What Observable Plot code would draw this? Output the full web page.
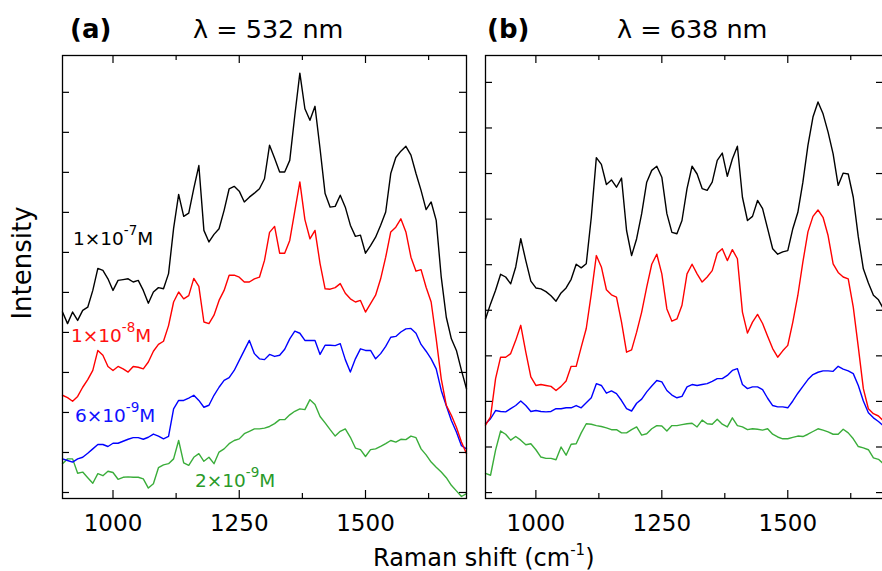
<!DOCTYPE html>
<html>
<head>
<meta charset="utf-8">
<script src="https://cdn.jsdelivr.net/npm/d3@7"></script>
<script src="https://cdn.jsdelivr.net/npm/@observablehq/plot@0.6"></script>
<style>
html, body { margin: 0; padding: 0; background: #fff; overflow: hidden; }
#wrap { position: relative; width: 882px; height: 571px; overflow: hidden; background: #fff; font-family: "DejaVu Sans", sans-serif; }
#wrap > svg { position: absolute; top: 0; }
</style>
</head>
<body>
<div id="wrap"></div>
<script>
// Raman shift sampling (cm^-1)
const xs = [900,910,920,930,940,950,960,970,980,990,
  1000,1010,1020,1030,1040,1050,1060,1070,1080,1090,
  1100,1110,1120,1130,1140,1150,1160,1170,1180,1190,
  1200,1210,1220,1230,1240,1250,1260,1270,1280,1290,
  1300,1310,1320,1330,1340,1350,1360,1370,1380,1390,
  1400,1410,1420,1430,1440,1450,1460,1470,1480,1490,
  1500,1510,1520,1530,1540,1550,1560,1570,1580,1590,
  1600,1610,1620,1630,1640,1650,1660,1670,1680,1690,1700];

// Panel (a) λ = 532 nm, intensities (a.u.)
const aBlack = [451,422,451,430,455,463,505,560,555,534,
  505,530,532,534,526,530,505,473,501,512,
  509,547,660,745,690,698,760,817,655,626,
  645,659,705,759,765,753,726,738,748,759,
  784,868,835,801,801,830,942,1048,959,930,
  965,859,747,713,715,743,713,668,640,643,
  598,617,638,668,701,797,837,853,865,843,
  797,755,707,726,680,538,438,384,355,305,259];
const aRed = [243,237,228,240,263,282,305,355,343,315,
  305,315,309,301,315,313,309,326,353,370,
  378,417,476,501,484,492,535,515,426,422,
  443,480,505,543,543,538,526,526,534,538,
  580,650,665,598,598,630,703,776,682,634,
  655,572,509,508,512,522,498,484,476,480,
  451,472,493,534,588,651,663,684,651,588,
  553,557,513,476,384,284,218,193,163,126,97];
const aBlue = [84,80,76,84,88,98,109,120,120,115,
  123,123,128,133,137,137,133,138,146,141,
  134,140,209,230,230,236,243,230,213,218,
  243,263,280,287,305,330,355,380,347,334,
  332,345,340,343,358,384,403,398,380,380,
  380,345,368,368,367,372,332,301,334,359,
  355,355,334,347,365,388,390,401,409,410,
  398,370,353,334,309,255,217,180,151,117,109];
const aGreen = [72,84,84,48,51,37,23,47,42,53,
  50,33,38,39,38,38,34,11,22,62,
  69,72,84,130,74,68,88,97,78,88,
  72,101,109,122,130,134,147,153,159,159,
  161,165,172,182,182,194,203,209,207,232,
  220,190,174,157,141,153,159,138,111,107,
  90,107,109,115,122,130,126,133,132,141,
  137,109,94,76,63,51,37,18,4,-10,-3];

// Panel (b) λ = 638 nm, intensities (a.u.), 900–1690 cm^-1
const bBlack = [381,414,444,479,473,458,495,557,509,464,
  449,447,441,432,420,438,449,468,501,493,
  502,604,735,720,676,686,670,690,575,520,
  557,612,681,707,716,692,612,571,568,597,
  667,716,699,667,663,681,729,745,694,732,
  760,648,597,606,641,623,579,535,523,528,
  531,579,615,681,762,824,857,831,791,743,
  674,701,699,648,561,491,460,433,423,403];
const bRed = [148,166,250,297,297,305,334,367,308,254,
  235,237,235,233,224,233,245,277,277,319,
  360,436,520,495,445,434,429,374,308,313,
  352,396,451,501,523,480,403,376,381,411,
  480,501,480,462,473,487,525,535,509,533,
  513,396,350,374,391,371,343,316,297,311,
  323,374,433,506,572,606,620,604,564,502,
  483,473,469,407,319,228,184,173,168,157];
const bBlue = [151,162,180,178,177,184,191,201,191,178,
  180,178,177,178,184,184,186,186,191,186,
  197,208,239,235,218,223,217,202,184,179,
  196,205,221,234,246,243,224,214,208,211,
  232,237,235,237,239,244,250,250,257,268,
  272,237,228,232,232,226,207,191,188,188,
  186,201,218,233,248,259,264,267,267,266,
  277,271,267,261,235,201,175,164,156,146];
const bGreen = [42,38,93,135,128,115,123,115,105,107,
  94,78,75,75,72,100,82,106,107,131,
  151,150,147,145,142,138,138,131,131,138,
  144,126,129,140,147,146,135,147,147,149,
  151,152,144,159,151,150,161,150,144,164,
  147,144,138,140,139,137,140,128,122,118,
  118,121,124,123,128,134,140,137,133,128,
  128,139,131,118,101,98,94,76,73,63];

const concentrations = ["1×10^-7 M", "1×10^-8 M", "6×10^-9 M", "2×10^-9 M"];
const lineColors = ["#000000", "#ff0000", "#0000ff", "#3aad3a"];
const labelColors = ["#000000", "#ff1010", "#1010ff", "#2a9a2a"];
const majorX = [1000, 1250, 1500];
const minorX = [1125, 1375, 1625];
const yTicksA = [0,100,200,300,400,500,600,700,800,900,1000];
const yTicksB = [0,100,200,300,400,500,600,700,800,900];

function makePanel({series, xDomain, yDomain, yTicks, width, mL, mR}) {
  const H = 545, mT = 55, mB = 47;
  const innerH = H - mT - mB, innerW = width - mL - mR;
  const marks = [];
  [3, 2, 1, 0].forEach(k => {
    const data = series[k].map((v, i) => ({x: xs[i], y: v, c: concentrations[k]}));
    marks.push(Plot.line(data, {x: "x", y: "y", stroke: lineColors[k], strokeWidth: 1.4, strokeLinejoin: "round"}));
  });
  const tk = {stroke: "#000", strokeWidth: 1.2};
  marks.push(Plot.tickX(majorX, {x: d => d, insetTop: innerH - 8, ...tk}));
  marks.push(Plot.tickX(majorX, {x: d => d, insetBottom: innerH - 8, ...tk}));
  marks.push(Plot.tickX(minorX, {x: d => d, insetTop: innerH - 5, ...tk}));
  marks.push(Plot.tickX(minorX, {x: d => d, insetBottom: innerH - 5, ...tk}));
  marks.push(Plot.tickY(yTicks, {y: d => d, insetRight: innerW - 7, ...tk}));
  marks.push(Plot.tickY(yTicks, {y: d => d, insetLeft: innerW - 7, ...tk}));
  marks.push(Plot.axisX(majorX, {anchor: "bottom", tickSize: 0, tickPadding: 16, fontSize: 23, tickFormat: d3.format("d"), fill: "#000", label: null}));
  marks.push(Plot.frame({stroke: "#000", strokeWidth: 1.3}));
  return Plot.plot({
    width, height: H, marginTop: mT, marginBottom: mB, marginLeft: mL, marginRight: mR,
    x: {domain: xDomain, label: null},
    y: {domain: yDomain, axis: null},
    style: {fontFamily: "DejaVu Sans, sans-serif", fontSize: "23px", color: "#000", background: "transparent", overflow: "visible"},
    marks
  });
}

const wrap = document.getElementById("wrap");
const pa = makePanel({series: [aBlack, aRed, aBlue, aGreen], xDomain: [900, 1700], yDomain: [-15, 1092], yTicks: yTicksA, width: 470, mL: 62, mR: 4});
pa.style.left = "0px";
wrap.appendChild(pa);
const pb = makePanel({series: [bBlack, bRed, bBlue, bGreen], xDomain: [900, 1690], yDomain: [-13, 959], yTicks: yTicksB, width: 414, mL: 15, mR: 1});
pb.style.left = "470px";
wrap.appendChild(pb);

// Text overlay
const ov = d3.select(wrap).append("svg")
  .attr("width", 882).attr("height", 571)
  .style("left", "0px").style("pointer-events", "none")
  .attr("font-family", "DejaVu Sans, sans-serif");

const titles = [
  {text: "(a)", x: 70, y: 38, size: 26, weight: "bold"},
  {text: "λ = 532 nm", x: 193, y: 38, size: 25.5, weight: "normal"},
  {text: "(b)", x: 487, y: 38, size: 26, weight: "bold"},
  {text: "λ = 638 nm", x: 617, y: 38, size: 25.5, weight: "normal"}
];
titles.forEach(t => ov.append("text").attr("x", t.x).attr("y", t.y)
  .attr("font-size", t.size).attr("font-weight", t.weight).attr("fill", "#000").text(t.text));

// x-axis title with superscript
const xt = ov.append("text").attr("x", 373).attr("y", 566).attr("font-size", 24).attr("fill", "#000");
xt.append("tspan").text("Raman shift (cm");
xt.append("tspan").attr("dy", -11).attr("font-size", 15).text("-1");
xt.append("tspan").attr("dy", 11).text(")");

// y-axis title
ov.append("text").attr("transform", "translate(31,263) rotate(-90)")
  .attr("text-anchor", "middle").attr("font-size", 26).attr("fill", "#000").text("Intensity");

// concentration labels
const labelPos = [
  {x: 73, y: 245}, {x: 71, y: 342}, {x: 75, y: 422}, {x: 195, y: 487}
];
concentrations.forEach((c, k) => {
  const [base, rest] = c.split("^");
  const [sup, unit] = rest.split(" ");
  const t = ov.append("text").attr("x", labelPos[k].x).attr("y", labelPos[k].y)
    .attr("font-size", 18.5).attr("fill", labelColors[k]);
  t.append("tspan").text(base);
  t.append("tspan").attr("dy", -10).attr("font-size", 13.5).text(sup);
  t.append("tspan").attr("dy", 10).text(unit);
});
</script>
</body>
</html>
